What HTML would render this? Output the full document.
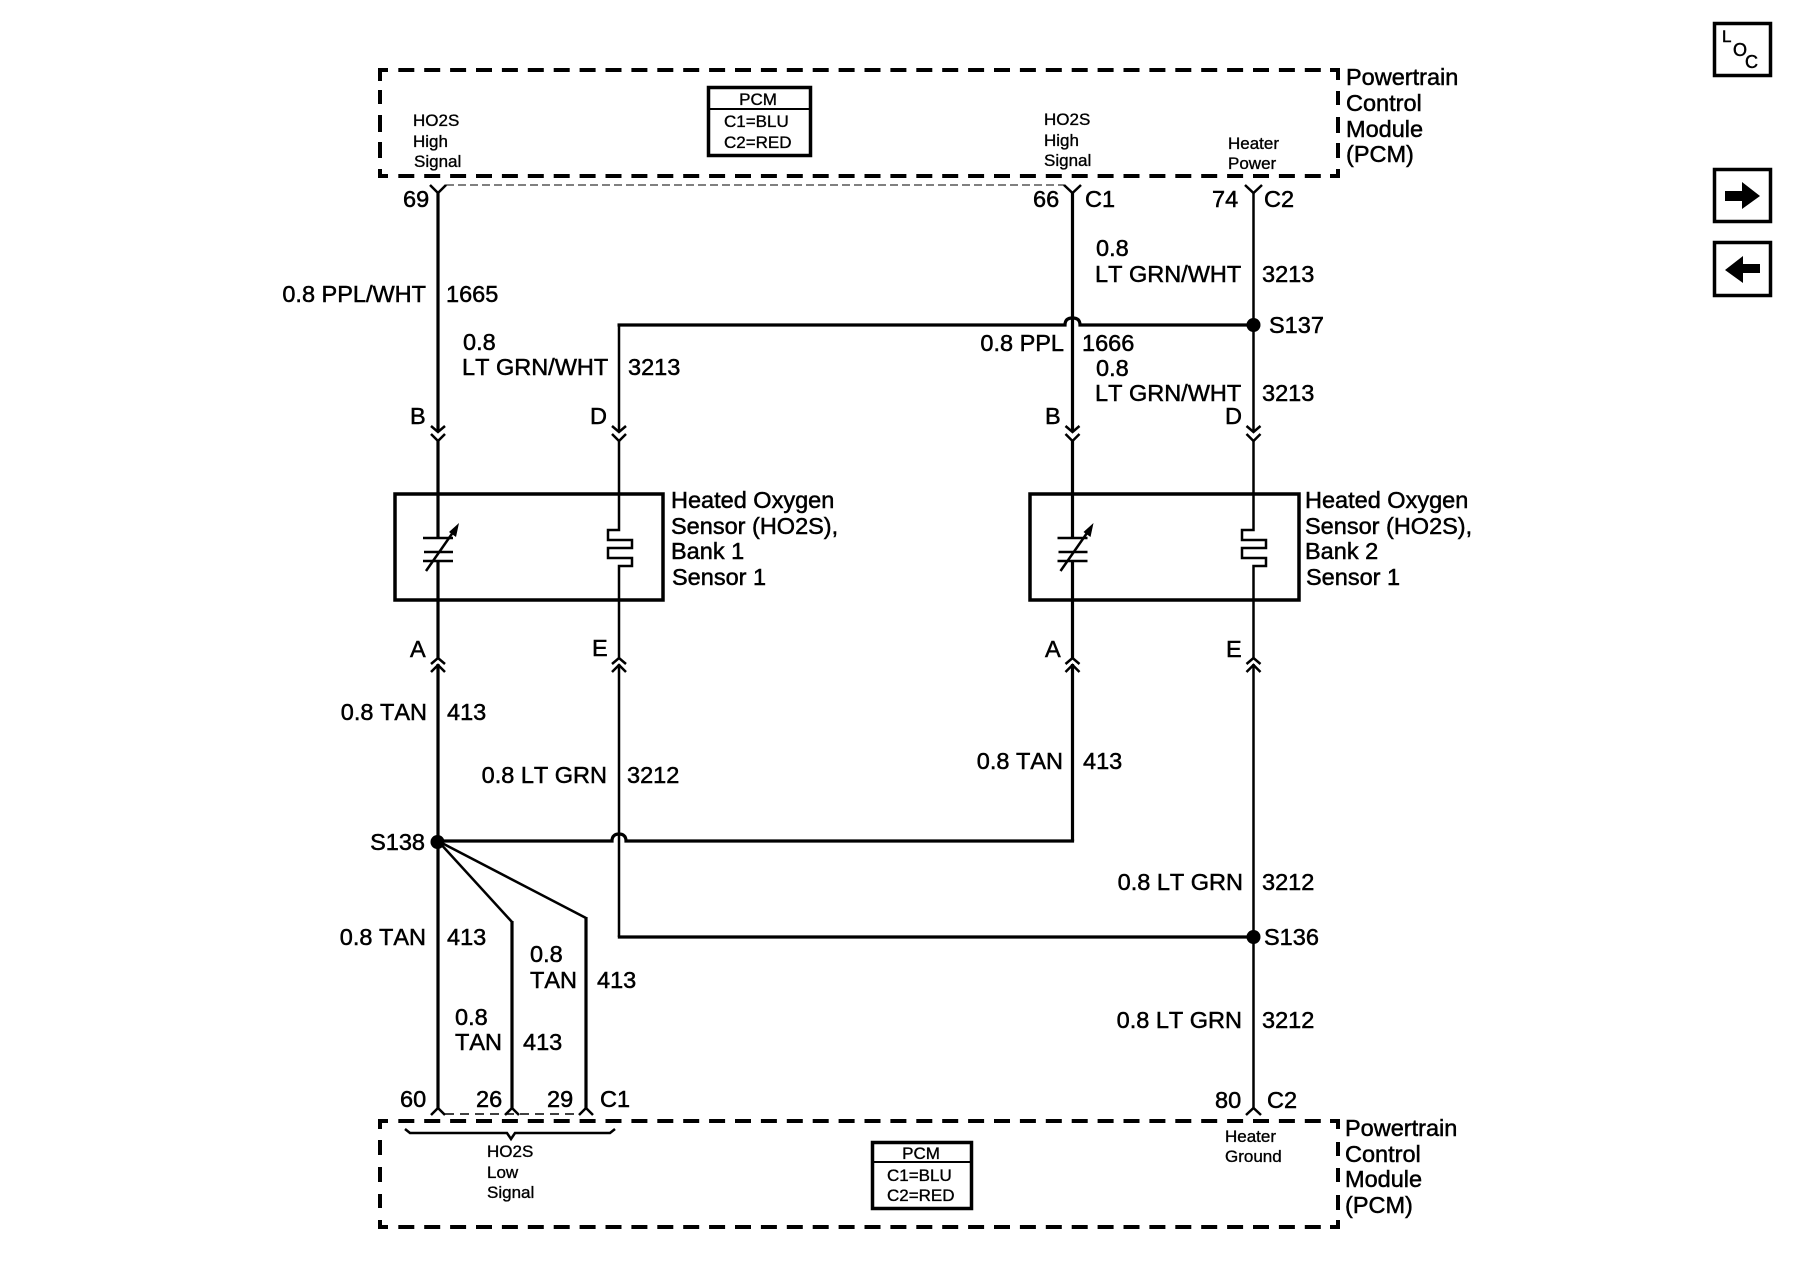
<!DOCTYPE html>
<html>
<head>
<meta charset="utf-8">
<style>
html,body{margin:0;padding:0;background:#fff;width:1800px;height:1280px;overflow:hidden}
svg{display:block}
text{font-family:"Liberation Sans",sans-serif;font-size:23.5px;font-kerning:none;fill:#000;stroke:#000;stroke-width:.5px}
.s text,text.s{font-size:17px;stroke-width:.35px}
.e{text-anchor:end}
.c{text-anchor:middle}
.w{fill:none;stroke:#000;stroke-width:3.2}
.t{fill:none;stroke:#000;stroke-width:2.5}
.h{fill:none;stroke:#000;stroke-width:2.5}
.d{fill:none;stroke:#000;stroke-width:4}
</style>
</head>
<body>
<svg width="1800" height="1280" viewBox="0 0 1800 1280" xmlns="http://www.w3.org/2000/svg">
<rect width="1800" height="1280" fill="#fff"/>

<!-- PCM dashed boxes -->
<g class="d">
<path class="d" d="M398.3 70H1322" stroke-dasharray="16 9.9"/>
<path class="d" d="M398.3 176H1322" stroke-dasharray="16 9.9"/>
<path class="d" d="M380 81V70H388M388 176H380V169M380 90V104M380 115V132M380 142V158"/>
<path class="d" d="M1330 70H1338V80M1338 91V105M1338 117V133M1338 143V158M1338 169V176H1330"/>
<path class="d" d="M398.3 1121H1322" stroke-dasharray="16 9.9"/>
<path class="d" d="M398.3 1227H1322" stroke-dasharray="16 9.9"/>
<path class="d" d="M380 1129V1121H388M380 1140V1155M380 1167V1182M380 1194V1208M380 1220V1227H388"/>
<path class="d" d="M1330 1121H1338V1129M1338 1142V1156M1338 1168V1182M1338 1195V1210M1338 1220V1227H1330"/>
</g>

<!-- thin dashed connector lines -->
<path d="M446 185H1064" stroke="#000" stroke-width="1" stroke-dasharray="8 4" fill="none"/>
<path d="M445 1114H580" stroke="#000" stroke-width="1.5" stroke-dasharray="9 6" fill="none"/>

<!-- PCM legends -->
<rect x="708.5" y="87.5" width="102" height="68" fill="#fff" stroke="#000" stroke-width="3.5"/>
<path d="M708 109H811" stroke="#000" stroke-width="2"/>
<rect x="872.5" y="1142.5" width="99" height="66" fill="#fff" stroke="#000" stroke-width="3.5"/>
<path d="M872 1162H972" stroke="#000" stroke-width="2"/>

<!-- Vertical wires -->
<path class="w" d="M438 193V432M438 441V538M438 561V658M438 664V1108"/>
<path class="t" d="M619 325V432M619 441V530H608V540H632V548H608V558H632V566H619V658M619 664V937"/>
<path class="w" d="M1072.5 193V432M1072.5 441V538M1072.5 561V658M1072.5 664V841"/>
<path class="t" d="M1253.5 193V432M1253.5 441V530H1242V540H1266V548H1242V558H1266V566H1253.5V658M1253.5 664V1108"/>

<!-- Horizontal wires with humps -->
<path class="w" d="M617.5 325H1065C1065 319 1069 318 1072.5 318C1076 318 1080 319 1080 325H1253.5"/>
<path class="w" d="M438 841H612C612 835 616 834 619 834C622 834 626 835 626 841H1074.1"/>
<path class="w" d="M617.8 937H1253.5"/>

<!-- Diagonal branches -->
<path class="t" d="M438 841L512 922"/>
<path class="t" d="M438 841L586 918"/>
<path class="w" d="M512 921V1108M586 917V1108"/>

<!-- Splice dots -->
<circle cx="1253.5" cy="325" r="7"/>
<circle cx="1253.5" cy="937" r="7"/>
<circle cx="437.5" cy="842" r="7"/>

<!-- Top connector Y -->
<path class="h" d="M430 185L438 193L446 185M1064 185L1072.5 193L1081 185M1245 185L1253.5 193L1262 185"/>

<!-- Double chevrons down -->
<g class="t">
<path d="M431 426L438 432L445 426M431 434L438 441L445 434"/>
<path d="M612 426L619 432L626 426M612 434L619 441L626 434"/>
<path d="M1065.5 426L1072.5 432L1079.5 426M1065.5 434L1072.5 441L1079.5 434"/>
<path d="M1246.5 426L1253.5 432L1260.5 426M1246.5 434L1253.5 441L1260.5 434"/>
</g>
<!-- Double chevrons up -->
<g class="t">
<path d="M431 664L438 658L445 664M431 672L438 665L445 672"/>
<path d="M612 664L619 658L626 664M612 672L619 665L626 672"/>
<path d="M1065.5 664L1072.5 658L1079.5 664M1065.5 672L1072.5 665L1079.5 672"/>
<path d="M1246.5 664L1253.5 658L1260.5 664M1246.5 672L1253.5 665L1260.5 672"/>
</g>
<!-- Bottom connector carets -->
<path class="t" d="M431 1115L438 1108L445 1115M505 1115L512 1108L519 1115M579 1115L586 1108L593 1115M1246 1115L1253.5 1108L1261 1115"/>

<!-- Sensor boxes -->
<rect x="395" y="494" width="268" height="106" fill="none" stroke="#000" stroke-width="3.5"/>
<rect x="1030" y="494" width="269" height="106" fill="none" stroke="#000" stroke-width="3.5"/>

<!-- Variable-resistor symbols -->
<g>
<path class="t" d="M423 538H453M424 552H453M423 561H453"/>
<path class="t" d="M426 571L456 528"/>
<path d="M459 523L449 532L456 537Z"/>
</g>
<g>
<path class="t" d="M1057.5 538H1087.5M1058.5 552H1087.5M1057.5 561H1087.5"/>
<path class="t" d="M1060.5 571L1090.5 528"/>
<path d="M1093.5 523L1083.5 532L1090.5 537Z"/>
</g>

<!-- Brace -->
<path class="t" d="M405 1129L410 1133H507L511 1139L515 1133H610L615 1129"/>

<!-- LOC and nav icons -->
<rect x="1714.5" y="23.5" width="56" height="52" fill="none" stroke="#000" stroke-width="3.5"/>
<rect x="1714.5" y="169.5" width="56" height="52" fill="none" stroke="#000" stroke-width="3.5"/>
<rect x="1714.5" y="242.5" width="56" height="53" fill="none" stroke="#000" stroke-width="3.5"/>
<path d="M1725 191H1742V182L1760 196L1742 209V201H1725Z"/>
<path d="M1760 264H1743V256L1725 270L1743 283V273H1760Z"/>
<text x="1722" y="42" style="font-size:17px">L</text>
<text x="1733" y="56" style="font-size:18px">O</text>
<text x="1745" y="68" style="font-size:18px">C</text>

<!-- small text -->
<g class="s">
<text x="413" y="126">HO2S</text><text x="413" y="147">High</text><text x="414" y="167">Signal</text>
<text x="1044" y="125">HO2S</text><text x="1044" y="146">High</text><text x="1044" y="166">Signal</text>
<text x="1228" y="149">Heater</text><text x="1228" y="169">Power</text>
<text x="758" y="105" class="c">PCM</text><text x="724" y="127">C1=BLU</text><text x="724" y="148">C2=RED</text>
<text x="921" y="1159" class="c">PCM</text><text x="887" y="1181">C1=BLU</text><text x="887" y="1201">C2=RED</text>
<text x="487" y="1157">HO2S</text><text x="487" y="1178">Low</text><text x="487" y="1198">Signal</text>
<text x="1225" y="1142">Heater</text><text x="1225" y="1162">Ground</text>
</g>

<!-- main text -->
<g>
<text x="1346" y="85">Powertrain</text><text x="1346" y="111">Control</text><text x="1346" y="137">Module</text><text x="1346" y="162">(PCM)</text>
<text x="1345" y="1136">Powertrain</text><text x="1345" y="1162">Control</text><text x="1345" y="1187">Module</text><text x="1345" y="1213">(PCM)</text>

<text x="403" y="207">69</text><text x="1033" y="207">66</text><text x="1085" y="207">C1</text><text x="1212" y="207">74</text><text x="1264" y="207">C2</text>

<text x="426" y="302" class="e">0.8 PPL/WHT</text><text x="446" y="302">1665</text>
<text x="463" y="350">0.8</text><text x="462" y="375">LT GRN/WHT</text><text x="628" y="375">3213</text>
<text x="1096" y="256">0.8</text><text x="1095" y="282">LT GRN/WHT</text><text x="1262" y="282">3213</text>
<text x="1269" y="333">S137</text>
<text x="1064" y="351" class="e">0.8 PPL</text><text x="1082" y="351">1666</text>
<text x="1096" y="376">0.8</text><text x="1095" y="401">LT GRN/WHT</text><text x="1262" y="401">3213</text>

<text x="410" y="424">B</text><text x="590" y="424">D</text><text x="1045" y="424">B</text><text x="1225" y="424">D</text>

<text x="671" y="508">Heated Oxygen</text><text x="671" y="534">Sensor (HO2S),</text><text x="671" y="559">Bank 1</text><text x="672" y="585">Sensor 1</text>
<text x="1305" y="508">Heated Oxygen</text><text x="1305" y="534">Sensor (HO2S),</text><text x="1305" y="559">Bank 2</text><text x="1306" y="585">Sensor 1</text>

<text x="410" y="657">A</text><text x="592" y="656">E</text><text x="1045" y="657">A</text><text x="1226" y="657">E</text>

<text x="427" y="720" class="e">0.8 TAN</text><text x="447" y="720">413</text>
<text x="607" y="783" class="e">0.8 LT GRN</text><text x="627" y="783">3212</text>
<text x="1063" y="769" class="e">0.8 TAN</text><text x="1083" y="769">413</text>
<text x="425" y="850" class="e">S138</text>
<text x="1243" y="890" class="e">0.8 LT GRN</text><text x="1262" y="890">3212</text>
<text x="1264" y="945">S136</text>
<text x="1242" y="1028" class="e">0.8 LT GRN</text><text x="1262" y="1028">3212</text>

<text x="426" y="945" class="e">0.8 TAN</text><text x="447" y="945">413</text>
<text x="530" y="962">0.8</text><text x="530" y="988">TAN</text><text x="597" y="988">413</text>
<text x="455" y="1025">0.8</text><text x="455" y="1050">TAN</text><text x="523" y="1050">413</text>

<text x="400" y="1107">60</text><text x="476" y="1107">26</text><text x="547" y="1107">29</text><text x="600" y="1107">C1</text>
<text x="1215" y="1108">80</text><text x="1267" y="1108">C2</text>
</g>
</svg>
</body>
</html>
